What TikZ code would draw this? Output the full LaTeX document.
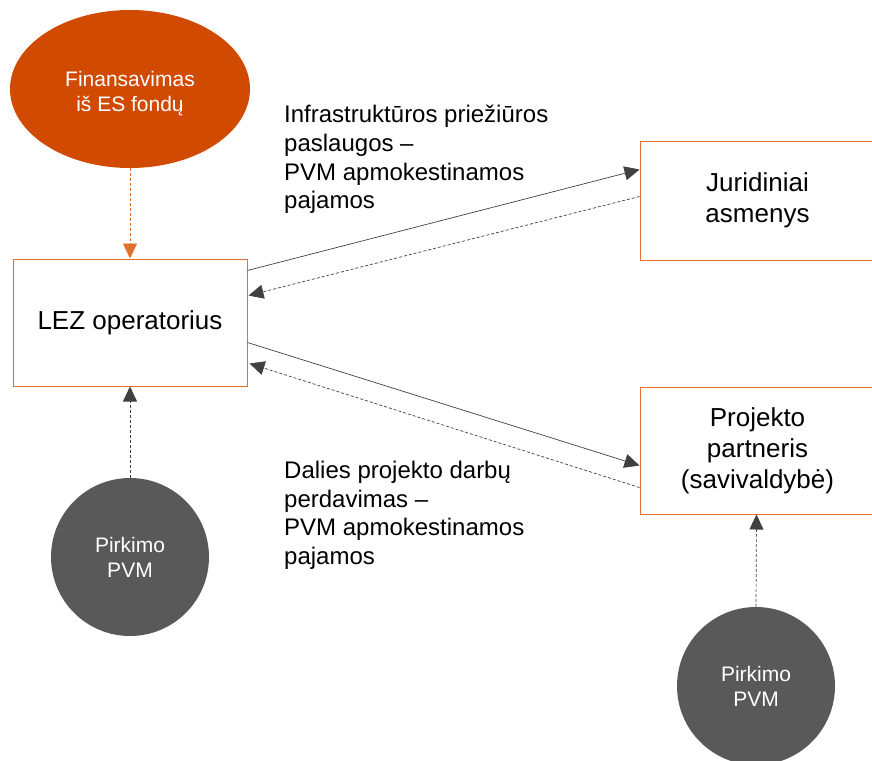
\documentclass[tikz,border=0pt]{standalone}
\usepackage{fontspec}
\setmainfont{Liberation Sans}
\usetikzlibrary{arrows.meta,shapes.geometric}
\definecolor{pwcorange}{HTML}{D04A02}
\definecolor{boxorange}{HTML}{E0702A}
\definecolor{darkgrey}{HTML}{595959}
\definecolor{arrgrey}{HTML}{404040}
\tikzset{
  box/.style={draw=boxorange, line width=1pt, rectangle, align=center, font=\fontsize{26}{31}\selectfont, text=black, inner sep=0pt},
  bubble/.style={circle, fill=darkgrey, minimum size=158pt, inner sep=0pt, text=white, align=center, font=\fontsize{21}{25}\selectfont},
  solidarr/.style={draw=arrgrey, line width=0.7pt, -{Triangle[length=15pt,width=14pt]}},
  dasharr/.style={draw=arrgrey, line width=0.7pt, densely dashed, -{Triangle[length=15pt,width=14pt]}},
  lbl/.style={align=left, anchor=north west, font=\fontsize{24}{28.7}\selectfont, text=black, inner sep=0pt}
}
\begin{document}
\begin{tikzpicture}[x=1pt,y=-1pt]
\useasboundingbox (0,0) rectangle (872,760);
\node[ellipse, fill=pwcorange, minimum width=240pt, minimum height=158pt, inner sep=0pt, text=white, font=\fontsize{21}{25.5}\selectfont] (ell) at (130,89) {\raisebox{-5pt}[\height][\depth]{\begin{tabular}{@{}c@{}}Finansavimas\\iš ES fondų\end{tabular}}};
\node[box, minimum width=234pt, minimum height=127pt] (lez) at (130,322.5) {LEZ operatorius};
\node[box, minimum width=235pt, minimum height=119pt] (jur) at (757.5,200.5) {Juridiniai\\asmenys};
\node[box, minimum width=235pt, minimum height=127pt] (proj) at (757.5,450.5) {Projekto\\partneris\\(savivaldybė)};
\node[bubble] (c1) at (130,557) {Pirkimo\\PVM};
\node[bubble] (c2) at (756,686) {Pirkimo\\PVM};
\draw[draw=boxorange, line width=0.8pt, densely dashed, -{Triangle[length=15pt,width=14pt]}] (ell.south) -- (lez.north);
\draw[dasharr] (c1.north) -- (lez.south);
\draw[dasharr] (c2.north) -- ([xshift=-1pt]proj.south);
\draw[solidarr] ([yshift=-12pt]lez.north east) -- ([yshift=-29pt]jur.north west);
\draw[dasharr] ([yshift=-56pt]jur.north west) -- ([yshift=-37pt,xshift=1pt]lez.north east);
\draw[solidarr] ([yshift=-84pt]lez.north east) -- ([yshift=-79pt]proj.north west);
\draw[dasharr] ([yshift=-101pt]proj.north west) -- ([yshift=-105pt,xshift=2pt]lez.north east);
\node[lbl] (l1) at (284,105) {Infrastruktūros priežiūros\\paslaugos –\\PVM apmokestinamos\\pajamos};
\node[lbl] (l2) at (284,461) {Dalies projekto darbų\\perdavimas –\\PVM apmokestinamos\\pajamos};
\end{tikzpicture}
\end{document}
